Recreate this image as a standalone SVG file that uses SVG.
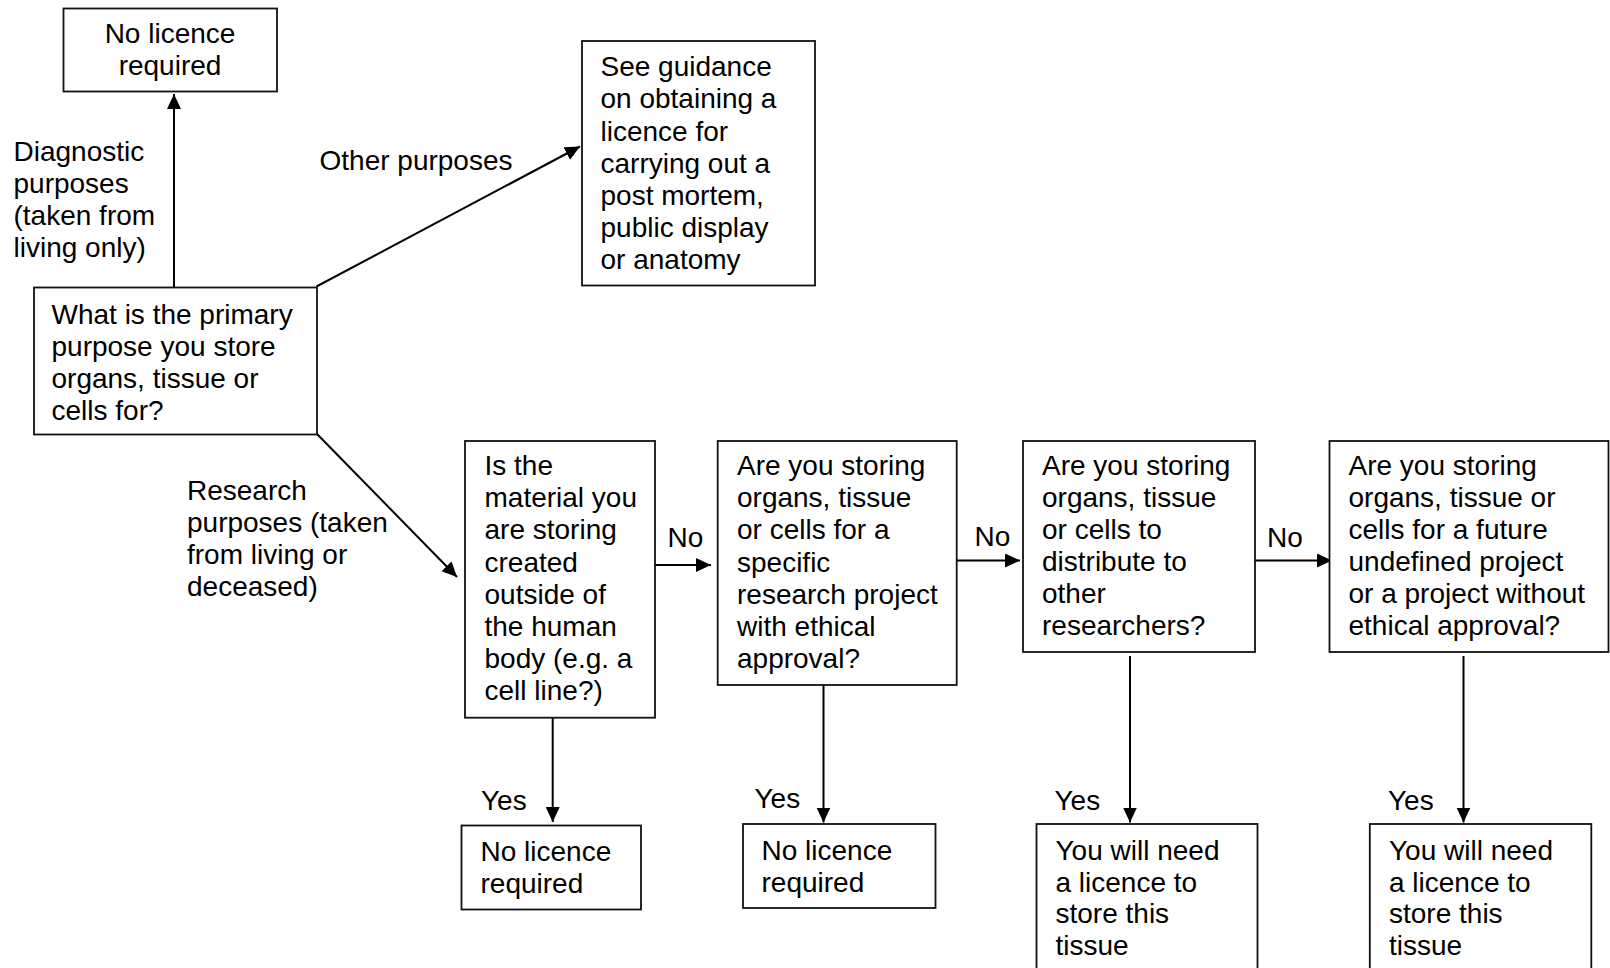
<svg xmlns="http://www.w3.org/2000/svg" width="1610" height="968" viewBox="0 0 1610 968">
<defs>
<marker id="ah" markerUnits="userSpaceOnUse" markerWidth="16" markerHeight="15" refX="15" refY="7" orient="auto">
<path d="M0,0 L15,7 L0,14 z" fill="#000"/>
</marker>
<style>
.box{fill:#fff;stroke:#111;stroke-width:1.8}
.t{font-family:"Liberation Sans",Arial,sans-serif;font-size:28px;fill:#000}
.c{text-anchor:middle}
.ln{stroke:#000;stroke-width:2;fill:none;marker-end:url(#ah)}
</style>
</defs>
<rect width="1610" height="968" fill="#fff"/>

<g id="connectors">
<line class="ln" x1="174" y1="287.5" x2="174" y2="94"/>
<line class="ln" x1="316.5" y1="286.5" x2="580" y2="146.5"/>
<line class="ln" x1="317" y1="434" x2="457" y2="577"/>
<line class="ln" x1="655" y1="565" x2="711" y2="565"/>
<line class="ln" x1="957" y1="560.5" x2="1020" y2="560.5"/>
<line class="ln" x1="1249" y1="560.5" x2="1332" y2="560.5"/>
<line class="ln" x1="552.7" y1="717.7" x2="552.7" y2="822"/>
<line class="ln" x1="823.5" y1="680" x2="823.5" y2="822.5"/>
<line class="ln" x1="1130" y1="656" x2="1130" y2="822.5"/>
<line class="ln" x1="1463.5" y1="656" x2="1463.5" y2="822.5"/>
</g>

<g id="edge-labels" class="t">
<text x="13.5" y="161">Diagnostic</text>
<text x="13.5" y="193">purposes</text>
<text x="13.5" y="224.5">(taken from</text>
<text x="13.5" y="256.5">living only)</text>
<text x="319.5" y="170">Other purposes</text>
<text x="187" y="500">Research</text>
<text x="187" y="532">purposes (taken</text>
<text x="187" y="564">from living or</text>
<text x="187" y="596">deceased)</text>
<text x="667.5" y="547">No</text>
<text x="974.5" y="546">No</text>
<text x="1267" y="547">No</text>
<text x="481" y="810">Yes</text>
<text x="754.5" y="808">Yes</text>
<text x="1054.5" y="810">Yes</text>
<text x="1388" y="810">Yes</text>
</g>

<g id="n-top-nolicence">
<rect class="box" x="63.5" y="8.5" width="213.5" height="83"/>
<text class="t c" x="170" y="43">No licence</text>
<text class="t c" x="170" y="75">required</text>
</g>

<g id="n-primary">
<rect class="box" x="34" y="287.5" width="283" height="147"/>
<text class="t" x="51.5" y="324">What is the primary</text>
<text class="t" x="51.5" y="356">purpose you store</text>
<text class="t" x="51.5" y="388">organs, tissue or</text>
<text class="t" x="51.5" y="420">cells for?</text>
</g>

<g id="n-guidance">
<rect class="box" x="582" y="41" width="233" height="244.5"/>
<text class="t" x="600.5" y="76">See guidance</text>
<text class="t" x="600.5" y="108">on obtaining a</text>
<text class="t" x="600.5" y="140.5">licence for</text>
<text class="t" x="600.5" y="172.5">carrying out a</text>
<text class="t" x="600.5" y="205">post mortem,</text>
<text class="t" x="600.5" y="237">public display</text>
<text class="t" x="600.5" y="269">or anatomy</text>
</g>

<g id="n-material">
<rect class="box" x="465" y="441" width="190" height="276.7"/>
<text class="t" x="484.5" y="475">Is the</text>
<text class="t" x="484.5" y="507">material you</text>
<text class="t" x="484.5" y="539">are storing</text>
<text class="t" x="484.5" y="571.5">created</text>
<text class="t" x="484.5" y="603.5">outside of</text>
<text class="t" x="484.5" y="635.5">the human</text>
<text class="t" x="484.5" y="668">body (e.g. a</text>
<text class="t" x="484.5" y="700">cell line?)</text>
</g>

<g id="n-specific">
<rect class="box" x="717.7" y="441" width="239" height="244"/>
<text class="t" x="737" y="475">Are you storing</text>
<text class="t" x="737" y="507">organs, tissue</text>
<text class="t" x="737" y="539">or cells for a</text>
<text class="t" x="737" y="571.5">specific</text>
<text class="t" x="737" y="603.5">research project</text>
<text class="t" x="737" y="635.5">with ethical</text>
<text class="t" x="737" y="668">approval?</text>
</g>

<g id="n-distribute">
<rect class="box" x="1023" y="441" width="232" height="211"/>
<text class="t" x="1042" y="475">Are you storing</text>
<text class="t" x="1042" y="507">organs, tissue</text>
<text class="t" x="1042" y="539">or cells to</text>
<text class="t" x="1042" y="571">distribute to</text>
<text class="t" x="1042" y="603">other</text>
<text class="t" x="1042" y="635">researchers?</text>
</g>

<g id="n-future">
<rect class="box" x="1329.5" y="441" width="279" height="211"/>
<text class="t" x="1348.5" y="475">Are you storing</text>
<text class="t" x="1348.5" y="507">organs, tissue or</text>
<text class="t" x="1348.5" y="539">cells for a future</text>
<text class="t" x="1348.5" y="571">undefined project</text>
<text class="t" x="1348.5" y="603">or a project without</text>
<text class="t" x="1348.5" y="635">ethical approval?</text>
</g>

<g id="n-nolicence-1">
<rect class="box" x="461.5" y="825.5" width="179.5" height="84"/>
<text class="t" x="480.5" y="861">No licence</text>
<text class="t" x="480.5" y="893">required</text>
</g>

<g id="n-nolicence-2">
<rect class="box" x="743" y="824" width="192.5" height="84"/>
<text class="t" x="761.5" y="860">No licence</text>
<text class="t" x="761.5" y="892">required</text>
</g>

<g id="n-licence-1">
<rect class="box" x="1036.5" y="824" width="221" height="160"/>
<text class="t" x="1055.5" y="859.5">You will need</text>
<text class="t" x="1055.5" y="891.5">a licence to</text>
<text class="t" x="1055.5" y="923">store this</text>
<text class="t" x="1055.5" y="955">tissue</text>
</g>

<g id="n-licence-2">
<rect class="box" x="1369.8" y="824" width="221.5" height="160"/>
<text class="t" x="1389" y="859.5">You will need</text>
<text class="t" x="1389" y="891.5">a licence to</text>
<text class="t" x="1389" y="923">store this</text>
<text class="t" x="1389" y="955">tissue</text>
</g>
</svg>
